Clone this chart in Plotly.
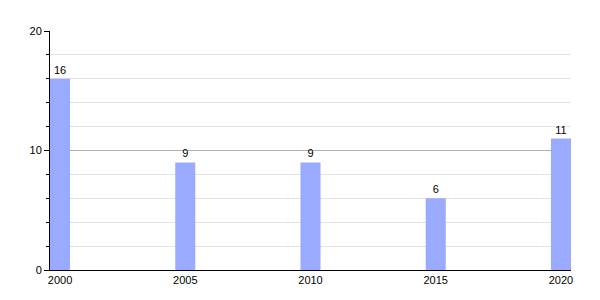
import plotly.graph_objects as go

years = [2000, 2005, 2010, 2015, 2020]
values = [16, 9, 9, 6, 11]
y_ticks = [0, 10, 20]

fig = go.Figure(go.Bar(
    x=years, y=values, width=0.8,
    marker=dict(color="#99aaff", line=dict(width=0)),
    text=[str(v) for v in values], textposition="outside",
    textfont=dict(family="Liberation Sans, Arial, sans-serif", size=11, color="#000"),
    cliponaxis=False,
))

fig.update_layout(
    width=600, height=300,
    margin=dict(l=50, r=29, t=31, b=30),
    plot_bgcolor="white", paper_bgcolor="white",
    showlegend=False,
    font=dict(family="Liberation Sans, Arial, sans-serif", size=11, color="#000"),
    xaxis=dict(
        range=[1999.6, 2020.4], tickvals=years, ticktext=[str(y) for y in years],
        showgrid=False, zeroline=False, showline=True, linecolor="#000", linewidth=1,
        ticks="", ticklen=0, fixedrange=True,
    ),
    yaxis=dict(
        range=[0, 20], tickvals=y_ticks, showgrid=True, gridcolor="#b0b0b0", gridwidth=1,
        zeroline=False, showline=True, linecolor="#000", linewidth=1,
        ticks="outside", ticklen=5, tickcolor="#000",
        minor=dict(dtick=2, showgrid=True, gridcolor="#e2e2e2", ticks="outside", ticklen=3, tickcolor="#000"),
    ),
)

fig.write_html("out.html")
